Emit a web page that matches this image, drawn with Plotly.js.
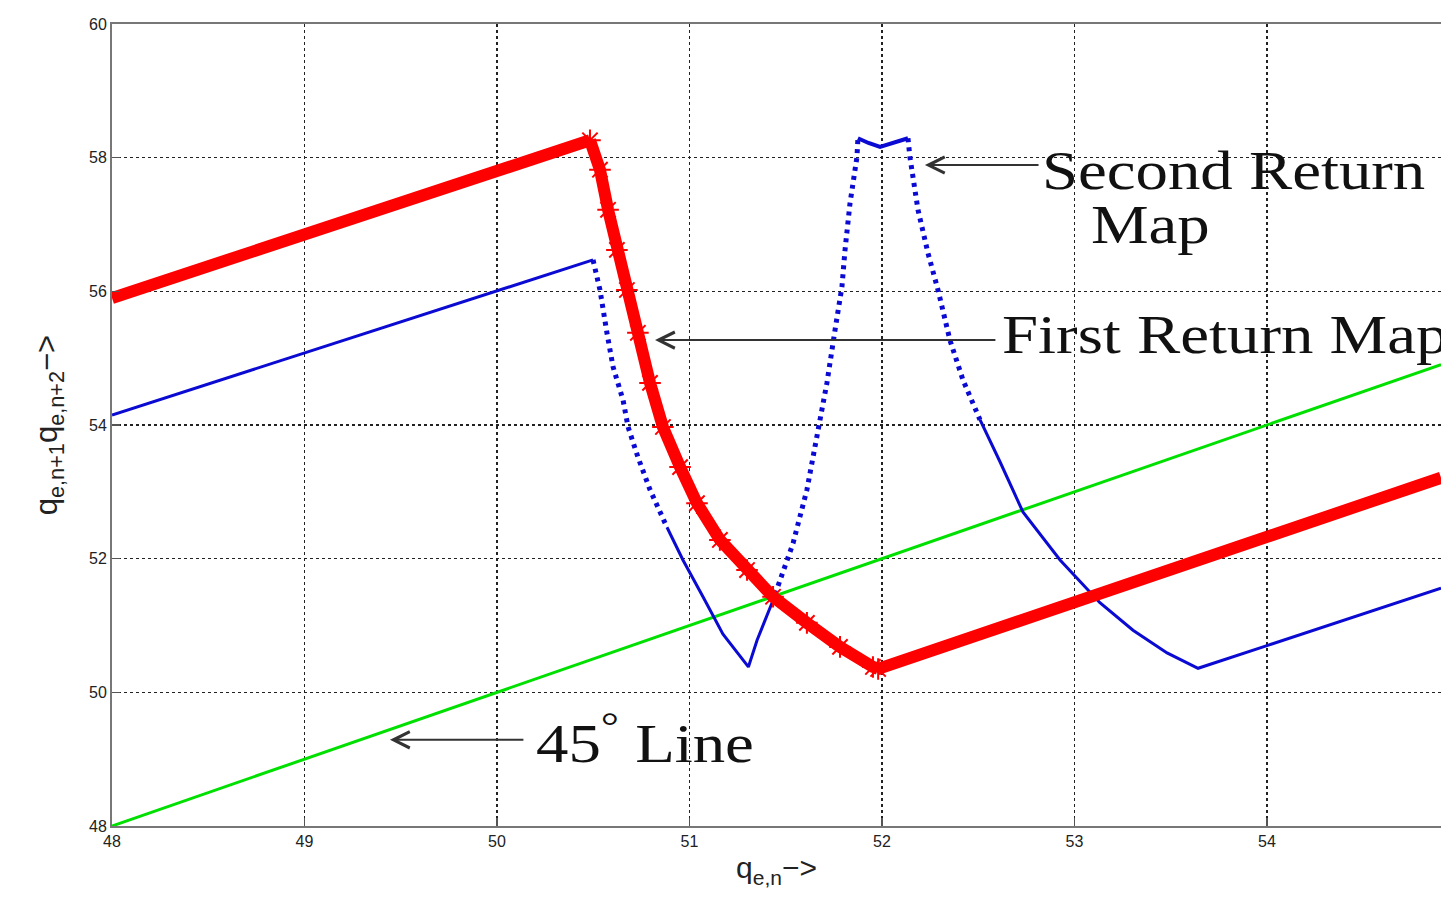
<!DOCTYPE html>
<html>
<head>
<meta charset="utf-8">
<script src="https://cdn.plot.ly/plotly-3.0.1.min.js"></script>
<style>html,body{margin:0;padding:0;background:#fff;}#chart{width:1441px;height:904px;}</style>
</head>
<body>
<div id="chart"></div>
<script>
// ---- Data ----
// 45 degree line
const lineX = [48, 54.904];
const lineY = [48, 54.904];

// First return map (red): linear rise, steep descent, linear rise
const redRiseX = [48, 50.483];
const redRiseY = [55.90, 58.26];
const redFallX = [50.483, 50.535, 50.577, 50.623, 50.675, 50.732, 50.795, 50.862, 50.951, 51.039, 51.158, 51.299, 51.434, 51.610, 51.782, 51.953, 51.98];
const redFallY = [58.26, 57.82, 57.22, 56.62, 56.02, 55.38, 54.63, 53.97, 53.37, 52.83, 52.28, 51.83, 51.43, 51.04, 50.68, 50.38, 50.35];
const redRise2X = [51.98, 54.904];
const redRise2Y = [50.35, 53.21];

// Second return map (blue), split into the densely and sparsely sampled pieces
const blueA_X = [48, 50.499];
const blueA_Y = [54.15, 56.47];
const blueB_X = [50.499, 50.535, 50.571, 50.603, 50.655, 50.681, 50.732, 50.795, 50.883];
const blueB_Y = [56.47, 56.02, 55.38, 54.87, 54.37, 53.97, 53.52, 53.03, 52.47];
const blueC_X = [50.883, 50.966, 51.070, 51.174, 51.306, 51.351, 51.429];
const blueC_Y = [52.47, 51.98, 51.43, 50.87, 50.38, 50.78, 51.34];
const blueD_X = [51.429, 51.486, 51.538, 51.610, 51.662, 51.714, 51.756, 51.792, 51.808, 51.834, 51.870, 51.875];
const blueD_Y = [51.34, 51.83, 52.23, 53.03, 53.82, 54.63, 55.42, 56.07, 56.62, 57.32, 58.01, 58.29];
const blueE_X = [51.875, 51.93, 51.99, 52.06, 52.135];
const blueE_Y = [58.29, 58.22, 58.16, 58.22, 58.29];
const blueF_X = [52.135, 52.145, 52.187, 52.239, 52.291, 52.353, 52.421, 52.509];
const blueF_Y = [58.29, 58.01, 57.22, 56.57, 56.02, 55.27, 54.67, 54.08];
const blueG_X = [52.509, 52.613, 52.732, 52.925, 53.132, 53.304, 53.481, 53.642, 54.0, 54.904];
const blueG_Y = [54.08, 53.45, 52.70, 51.98, 51.34, 50.93, 50.59, 50.36, 50.70, 51.56];

// Axis ticks
const xTicks = [48, 49, 50, 51, 52, 53, 54, 55];
const yTicks = [48, 50, 52, 54, 56, 58, 60];

// Labels
const labelSecond1 = "Second Return";
const labelSecond2 = "Map";
const labelFirst = "First Return Map";
const label45 = "45<sup>°</sup> Line";
const xTitle = "q<sub>e,n</sub>−>";
const yTitle = "q<sub>e,n+1</sub>q<sub>e,n+2</sub>−>";

// ---- Styles ----
const BLUE = '#0a0ad2';
const RED = '#ff0000';
const GREEN = '#00e000';
const solidBlue = {color: BLUE, width: 3};
const dotBlue = {color: BLUE, width: 5, dash: '4px,5px'};

const traces = [
  {x: lineX, y: lineY, mode: 'lines', line: {color: GREEN, width: 3}},
  {x: blueA_X, y: blueA_Y, mode: 'lines', line: solidBlue},
  {x: blueB_X, y: blueB_Y, mode: 'lines', line: dotBlue},
  {x: blueC_X, y: blueC_Y, mode: 'lines', line: solidBlue},
  {x: blueD_X, y: blueD_Y, mode: 'lines', line: dotBlue},
  {x: blueE_X, y: blueE_Y, mode: 'lines', line: {color: BLUE, width: 4}},
  {x: blueF_X, y: blueF_Y, mode: 'lines', line: dotBlue},
  {x: blueG_X, y: blueG_Y, mode: 'lines', line: solidBlue},
  {x: redRiseX, y: redRiseY, mode: 'lines', line: {color: RED, width: 12}},
  {x: redFallX, y: redFallY, mode: 'lines+markers', line: {color: RED, width: 12},
   marker: {symbol: 'asterisk-open', size: 18, color: RED, line: {color: RED, width: 2}}},
  {x: redRise2X, y: redRise2Y, mode: 'lines', line: {color: RED, width: 12}}
];

const serif = {family: 'Liberation Serif, Times New Roman, serif', size: 54, color: '#111'};
const arrowStyle = {showarrow: true, arrowhead: 5, arrowsize: 1.6, arrowwidth: 2, arrowcolor: '#333',
  axref: 'x', ayref: 'y', text: ''};

const layout = {
  width: 1441, height: 904,
  margin: {l: 112, r: 0, t: 24, b: 78},
  paper_bgcolor: '#fff', plot_bgcolor: '#fff',
  showlegend: false,
  xaxis: {
    range: [48, 54.904], tickvals: xTicks, ticktext: xTicks.map(String),
    showgrid: true, gridcolor: '#222', gridwidth: 1.5, griddash: 'dot',
    showline: true, linecolor: '#777', linewidth: 2, mirror: true,
    ticks: 'inside', ticklen: 8, tickcolor: '#555', tickwidth: 1.5,
    zeroline: false,
    tickfont: {family: 'Liberation Sans, Arial, sans-serif', size: 16, color: '#222'},
    title: {text: xTitle, font: {family: 'Liberation Sans, Arial, sans-serif', size: 30, color: '#222'}, standoff: 8}
  },
  yaxis: {
    range: [48, 60], tickvals: yTicks, ticktext: yTicks.map(String),
    showgrid: true, gridcolor: '#222', gridwidth: 1.5, griddash: 'dot',
    showline: true, linecolor: '#777', linewidth: 2, mirror: false,
    ticks: 'inside', ticklen: 8, tickcolor: '#555', tickwidth: 1.5,
    zeroline: false,
    tickfont: {family: 'Liberation Sans, Arial, sans-serif', size: 16, color: '#222'},
    title: {text: yTitle, font: {family: 'Liberation Sans, Arial, sans-serif', size: 31, color: '#222'}, standoff: 22}
  },
  annotations: [
    Object.assign({}, arrowStyle, {x: 52.223, y: 57.89, ax: 52.821, ay: 57.89}),
    Object.assign({}, arrowStyle, {x: 50.821, y: 55.27, ax: 52.597, ay: 55.27}),
    Object.assign({}, arrowStyle, {x: 49.444, y: 49.29, ax: 50.145, ay: 49.29}),
    {x: 52.82, y: 57.80, xref: 'x', yref: 'y', xanchor: 'left', yanchor: 'middle', showarrow: false, text: labelSecond1, font: serif},
    {x: 53.075, y: 56.99, xref: 'x', yref: 'y', xanchor: 'left', yanchor: 'middle', showarrow: false, text: labelSecond2, font: serif},
    {x: 52.612, y: 55.35, xref: 'x', yref: 'y', xanchor: 'left', yanchor: 'middle', showarrow: false, text: labelFirst, font: serif},
    {x: 50.19, y: 49.30, xref: 'x', yref: 'y', xanchor: 'left', yanchor: 'middle', showarrow: false, text: label45, font: serif}
  ]
};

Plotly.newPlot('chart', traces, layout, {displayModeBar: false, staticPlot: true}).then(function (gd) {
  // the reference's serif labels are horizontally stretched; widen them around their left edge
  const sx = 1.2;
  gd.querySelectorAll('.annotation-text-g text.annotation-text').forEach(function (t) {
    if (!t.textContent) return;
    const bb = t.getBBox();
    const left = bb.x;
    t.setAttribute('transform', 'translate(' + left + ',0) scale(' + sx + ',1) translate(' + (-left) + ',0)');
  });
});
</script>
</body>
</html>
